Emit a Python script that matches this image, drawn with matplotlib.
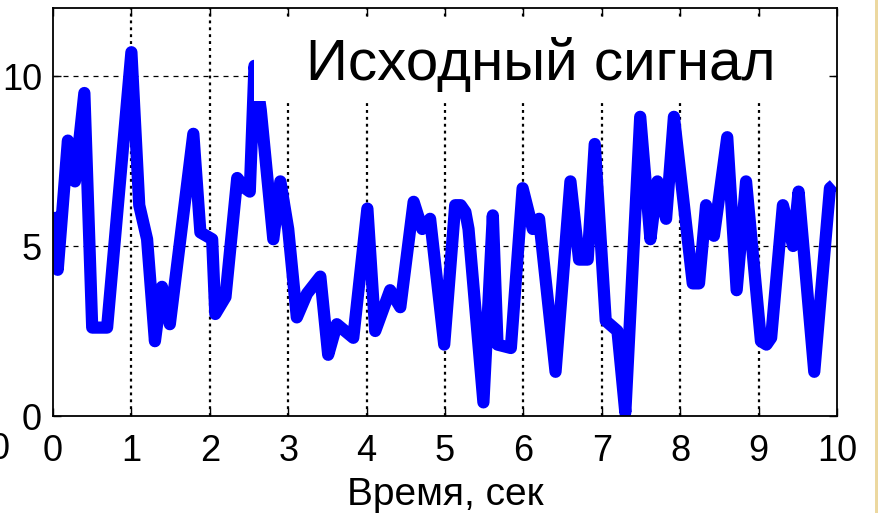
import matplotlib
matplotlib.use("Agg")
import matplotlib.pyplot as plt
from matplotlib.patches import Rectangle

plt.rcParams['font.family'] = ['Liberation Sans', 'DejaVu Sans']

# signal vertices
time_s = [0.00, 0.06, 0.19, 0.28, 0.40, 0.50, 0.69, 1.00, 1.10, 1.20,
          1.30, 1.39, 1.49, 1.79, 1.88, 2.03, 2.07, 2.20, 2.35, 2.45,
          2.51, 2.57, 2.65, 2.81, 2.90, 3.00, 3.11, 3.24, 3.41, 3.51,
          3.62, 3.83, 4.01, 4.11, 4.30, 4.43, 4.60, 4.71, 4.81, 4.99,
          5.13, 5.20, 5.26, 5.30, 5.49, 5.61, 5.67, 5.84, 5.99, 6.12, 6.20,
          6.41, 6.60, 6.71, 6.82, 6.91, 7.05, 7.20, 7.30, 7.49, 7.62,
          7.71, 7.82, 7.92, 8.16, 8.24, 8.33, 8.43, 8.60, 8.72, 8.84,
          9.03, 9.10, 9.16, 9.31, 9.44, 9.51, 9.71, 9.91, 9.96]
signal = [6.0, 4.3, 8.1, 6.9, 9.5, 2.6, 2.6, 10.7, 6.2, 5.2,
          2.2, 3.8, 2.7, 8.3, 5.4, 5.2, 3.0, 3.5, 7.0, 6.7,
          6.6, 10.3, 9.0, 5.2, 6.9, 5.5, 2.9, 3.6, 4.1, 1.8,
          2.7, 2.3, 6.1, 2.5, 3.7, 3.2, 6.3, 5.5, 5.8, 2.1,
          6.2, 6.2, 6.0, 5.5, 0.4, 5.9, 2.1, 2.0, 6.7, 5.5, 5.8,
          1.3, 6.9, 4.6, 4.6, 8.0, 2.8, 2.5, 0.1, 8.8, 5.2,
          6.9, 5.8, 8.8, 3.9, 3.9, 6.2, 5.3, 8.2, 3.7, 6.9,
          2.2, 2.1, 2.3, 6.2, 5.0, 6.6, 1.3, 6.7, 6.8]

x_ticks = list(range(0, 11))
y_ticks = [0, 5, 10]

W, H = 879, 513
fig = plt.figure(figsize=(W / 100, H / 100), dpi=100)
ax = fig.add_axes([53 / W, (H - 416) / H, (837 - 53) / W, (416 - 8) / H])

ax.plot(time_s, signal, color=(0, 0, 1), lw=8.8,
        solid_joinstyle='round', solid_capstyle='butt', zorder=2)

ax.set_xlim(0, 10)
ax.set_ylim(0, 12)
ax.set_xticks(x_ticks)
ax.set_yticks(y_ticks)

# matlab style grid: dotted verticals, dashed horizontals
for t in x_ticks[1:-1]:
    ax.axvline(t, color='black', lw=1.6, ls=(0, (1.3, 1.8)), zorder=1)
for v in y_ticks[1:]:
    ax.axhline(v, color='black', lw=0.9, ls=(0, (4, 4)), zorder=1)

for s in ax.spines.values():
    s.set_linewidth(1.3)
ax.tick_params(direction='in', length=6, width=1, top=True, right=True,
               labelsize=26)
ax.tick_params(axis='x', pad=13)
ax.tick_params(axis='y', pad=8)
ax.set_xlabel('Время, сек', fontsize=28, labelpad=6)

# white label box covering grid and signal
ax.add_patch(Rectangle((0.256, 0.772), 0.734, 0.206, transform=ax.transAxes,
                       facecolor='white', edgecolor='none', zorder=3))
ax.text(0.622, 0.824, 'Исходный сигнал', transform=ax.transAxes,
        fontsize=42, ha='center', va='baseline', zorder=4)

# neighbour label cut off at the left border
fig.text(10 / W, (H - 459) / H, '0', fontsize=26, ha='right', va='baseline')

# beige strip at the right border
fig.patches.append(Rectangle((875 / W, 0), 1 - 875 / W, 1, transform=fig.transFigure,
                             facecolor='#ecd8a0', edgecolor='none'))

fig.savefig('out.png', dpi=100)
